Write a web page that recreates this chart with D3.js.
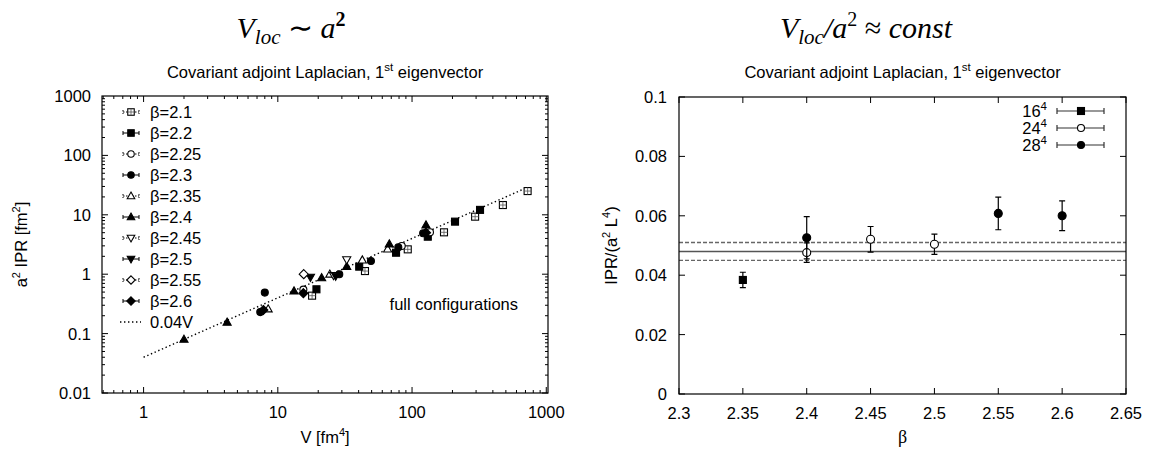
<!DOCTYPE html>
<html><head><meta charset="utf-8">
<script src="https://cdn.jsdelivr.net/npm/d3@7"></script>
<style>
body{margin:0;background:#fff;}
svg{display:block;}
text{font-family:"Liberation Sans",Arial,sans-serif;fill:#000;}
.serif{font-family:"Liberation Serif","Times New Roman",serif;}
</style></head><body>
<svg id="chart" width="1151" height="451"></svg>
<script>
// ---------- DATA: left panel (a^2 IPR vs V) ----------
const betaLabels = ["β=2.1","β=2.2","β=2.25","β=2.3","β=2.35","β=2.4","β=2.45","β=2.5","β=2.55","β=2.6"];
const betaShapes = ["square","square","circle","circle","triUp","triUp","triDown","triDown","diamond","diamond"];
const betaFilled = [false,true,false,true,false,true,false,true,false,true];
const b21  = [[18.0,0.435],[44.6,1.13],[92.9,2.62],[173,5.07],[295,9.3],[475,14.6],[726,25.1]];
const b22  = [[19.4,0.557],[40.4,1.34],[76,2.3],[131,4.28],[209,7.67],[321,12.1]];
const b225 = [[15.5,0.55],[83.8,2.98],[136,5.07]];
const b23  = [[7.4,0.23],[8.0,0.49],[28.7,1.0],[49.4,1.67],[79,2.84],[121,4.88]];
const b235 = [[8.47,0.26],[24.4,1.0],[42.6,1.73],[65.8,2.65]];
const b24  = [[2.0,0.080],[4.19,0.155],[13.2,0.52],[21.2,0.87],[32.6,1.35],[67.7,3.22],[127,6.73]];
const b245 = [[26,0.95],[32.6,1.75]];
const b25  = [[17.5,0.89],[27,0.93]];
const b255 = [[15.6,1.0]];
const b26  = [[7.8,0.25],[15.5,0.48],[127,5.0]];
const betaSeries = [b21,b22,b225,b23,b235,b24,b245,b25,b255,b26];
const fitCoef = 0.04;           // 0.04V
const fitRange = [1, 700];
const leftXTicks = [1,10,100,1000];
const leftYTicks = [0.01,0.1,1,10,100,1000];

// ---------- DATA: right panel (IPR/(a^2 L^4) vs beta) ----------
const latLabels = ["16","24","28"];
const lat16 = [[2.35,0.0384,0.0026]];
const lat24 = [[2.40,0.0476,0.0033],[2.45,0.0521,0.0043],[2.50,0.0504,0.0034]];
const lat28 = [[2.40,0.0526,0.0071],[2.55,0.0608,0.0055],[2.60,0.0600,0.0050]];
const constFit = 0.048, constErr = 0.003;
const rightXTicks = [2.3,2.35,2.4,2.45,2.5,2.55,2.6,2.65];
const rightYTicks = [0,0.02,0.04,0.06,0.08,0.1];

const svg = d3.select("#chart");
const FS = 16.5;

function marker(g, shape, filled, x, y, s) {
  const fill = filled ? "#000" : "#fff";
  const st = {stroke:"#000","stroke-width":1.1,fill:fill};
  let el;
  if (shape==="square") el = g.append("rect").attr("x",x-s/2).attr("y",y-s/2).attr("width",s).attr("height",s);
  else if (shape==="circle") el = g.append("circle").attr("cx",x).attr("cy",y).attr("r",s/2);
  else if (shape==="triUp") el = g.append("path").attr("d",`M${x},${y-s*0.6}L${x+s*0.58},${y+s*0.42}L${x-s*0.58},${y+s*0.42}Z`);
  else if (shape==="triDown") el = g.append("path").attr("d",`M${x},${y+s*0.6}L${x+s*0.58},${y-s*0.42}L${x-s*0.58},${y-s*0.42}Z`);
  else el = g.append("path").attr("d",`M${x},${y-s*0.65}L${x+s*0.65},${y}L${x},${y+s*0.65}L${x-s*0.65},${y}Z`);
  for (const k in st) el.attr(k, st[k]);
  if (shape==="square" && !filled) {
    g.append("path").attr("d",`M${x-s/2},${y}H${x+s/2}M${x},${y-s/2}V${y+s/2}`).attr("stroke","#555").attr("stroke-width",0.8);
  }
}

// ================= LEFT PANEL =================
const L = {l:102, r:548, t:96, b:393};
const xL = d3.scaleLog().domain([0.49,1030]).range([L.l,L.r]);
const yL = d3.scaleLog().domain([0.01,1000]).range([L.b,L.t]);
const gL = svg.append("g");

const xMinor = d3.range(-1,4).flatMap(e=>d3.range(1,10).map(m=>m*Math.pow(10,e))).filter(v=>v>=0.49&&v<=1030);
const yMinor = d3.range(-2,3).flatMap(e=>d3.range(1,10).map(m=>m*Math.pow(10,e))).filter(v=>v>=0.01&&v<=1000);
xMinor.forEach(v=>{
  const major = leftXTicks.includes(v);
  const len = major?6:3;
  gL.append("line").attr("x1",xL(v)).attr("x2",xL(v)).attr("y1",L.b).attr("y2",L.b-len).attr("stroke","#000");
  gL.append("line").attr("x1",xL(v)).attr("x2",xL(v)).attr("y1",L.t).attr("y2",L.t+len).attr("stroke","#000");
});
yMinor.forEach(v=>{
  const major = leftYTicks.includes(v);
  const len = major?6:3;
  gL.append("line").attr("y1",yL(v)).attr("y2",yL(v)).attr("x1",L.l).attr("x2",L.l+len).attr("stroke","#000");
  gL.append("line").attr("y1",yL(v)).attr("y2",yL(v)).attr("x1",L.r).attr("x2",L.r-len).attr("stroke","#000");
});
leftXTicks.forEach(v=>gL.append("text").attr("x",xL(v)).attr("y",L.b+25).attr("text-anchor","middle").attr("font-size",FS).text(d3.format("~g")(v)));
leftYTicks.forEach(v=>gL.append("text").attr("x",L.l-11).attr("y",yL(v)+6).attr("text-anchor","end").attr("font-size",FS).text(String(v)));
gL.append("rect").attr("x",L.l).attr("y",L.t).attr("width",L.r-L.l).attr("height",L.b-L.t).attr("fill","none").attr("stroke","#000").attr("stroke-width",1.2);

gL.append("line").attr("x1",xL(fitRange[0])).attr("y1",yL(fitCoef*fitRange[0])).attr("x2",xL(fitRange[1])).attr("y2",yL(fitCoef*fitRange[1]))
  .attr("stroke","#000").attr("stroke-width",1.4).attr("stroke-dasharray","1.4,2.6");

betaSeries.forEach((ser,i)=>{
  ser.forEach(p=>marker(gL, betaShapes[i], betaFilled[i], xL(p[0]), yL(p[1]), 7));
});

const legY0 = 112, legDY = 21;
betaLabels.forEach((lab,i)=>{
  const y = legY0 + i*legDY;
  gL.append("path").attr("d",`M123,${y}H139M123,${y-2}V${y+2}M139,${y-2}V${y+2}`).attr("stroke","#000").attr("stroke-width",1).attr("stroke-dasharray", i%2===0?"1.5,1.5":null);
  marker(gL, betaShapes[i], betaFilled[i], 131, y, 6.5);
  gL.append("text").attr("x",150).attr("y",y+6).attr("font-size",FS).text(lab);
});
{
  const y = legY0 + 10*legDY;
  gL.append("line").attr("x1",120).attr("x2",141).attr("y1",y).attr("y2",y).attr("stroke","#000").attr("stroke-width",1.4).attr("stroke-dasharray","1.4,2.6");
  gL.append("text").attr("x",150).attr("y",y+6).attr("font-size",FS).text("0.04V");
}
gL.append("text").attr("x",518).attr("y",310).attr("text-anchor","end").attr("font-size",FS).text("full configurations");

gL.append("text").attr("x",(L.l+L.r)/2).attr("y",443).attr("text-anchor","middle").attr("font-size",FS)
  .html('V [fm<tspan dy="-7" font-size="11">4</tspan><tspan dy="7">]</tspan>');
gL.append("text").attr("transform",`translate(27,${(L.t+L.b)/2}) rotate(-90)`).attr("text-anchor","middle").attr("font-size",FS)
  .html('a<tspan dy="-7" font-size="11">2</tspan><tspan dy="7"> IPR [fm</tspan><tspan dy="-7" font-size="11">2</tspan><tspan dy="7">]</tspan>');
gL.append("text").attr("x",(L.l+L.r)/2).attr("y",78).attr("text-anchor","middle").attr("font-size",FS)
  .html('Covariant adjoint Laplacian, 1<tspan dy="-7" font-size="11.5">st</tspan><tspan dy="7"> eigenvector</tspan>');
gL.append("text").attr("class","serif").attr("font-style","italic").attr("x",291).attr("y",38).attr("text-anchor","middle").attr("font-size",30)
  .html('V<tspan dy="6" font-size="21">loc</tspan><tspan dy="-6" style="font-style:normal"> ∼ </tspan>a<tspan dy="-12" font-size="20" font-weight="bold" style="font-style:normal">2</tspan>');

// ================= RIGHT PANEL =================
const R = {l:679, r:1126, t:97, b:394};
const xR = d3.scaleLinear().domain([2.3,2.65]).range([R.l,R.r]);
const yR = d3.scaleLinear().domain([0,0.1]).range([R.b,R.t]);
const gR = svg.append("g");
rightXTicks.forEach(v=>{
  gR.append("line").attr("x1",xR(v)).attr("x2",xR(v)).attr("y1",R.b).attr("y2",R.b-6).attr("stroke","#000");
  gR.append("line").attr("x1",xR(v)).attr("x2",xR(v)).attr("y1",R.t).attr("y2",R.t+6).attr("stroke","#000");
  gR.append("text").attr("x",xR(v)).attr("y",R.b+25).attr("text-anchor","middle").attr("font-size",FS).text(d3.format("~g")(v));
});
rightYTicks.forEach(v=>{
  gR.append("line").attr("y1",yR(v)).attr("y2",yR(v)).attr("x1",R.l).attr("x2",R.l+6).attr("stroke","#000");
  gR.append("line").attr("y1",yR(v)).attr("y2",yR(v)).attr("x1",R.r).attr("x2",R.r-6).attr("stroke","#000");
  gR.append("text").attr("x",R.l-12).attr("y",yR(v)+6).attr("text-anchor","end").attr("font-size",FS).text(d3.format("~g")(v));
});
gR.append("line").attr("x1",R.l).attr("x2",R.r).attr("y1",yR(constFit)).attr("y2",yR(constFit)).attr("stroke","#555").attr("stroke-width",1.5);
[constFit+constErr,constFit-constErr].forEach(v=>
  gR.append("line").attr("x1",R.l).attr("x2",R.r).attr("y1",yR(v)).attr("y2",yR(v)).attr("stroke","#666").attr("stroke-width",1.4).attr("stroke-dasharray","4,2"));
gR.append("rect").attr("x",R.l).attr("y",R.t).attr("width",R.r-R.l).attr("height",R.b-R.t).attr("fill","none").attr("stroke","#000").attr("stroke-width",1.2);

const latSeries = [lat16,lat24,lat28];
const latShape = ["square","circle","circle"];
const latFill = [true,false,true];
latSeries.forEach((ser,i)=>{
  ser.forEach(p=>{
    const x = xR(p[0]), y1 = yR(p[1]-p[2]), y2 = yR(p[1]+p[2]);
    gR.append("path").attr("d",`M${x},${y1}V${y2}M${x-3},${y1}H${x+3}M${x-3},${y2}H${x+3}`).attr("stroke","#000").attr("stroke-width",1.2);
    marker(gR, latShape[i], latFill[i], x, yR(p[1]), i===0?7:8);
  });
});
latLabels.forEach((lab,i)=>{
  const y = 111 + i*17;
  gR.append("text").attr("x",1047).attr("y",y+6).attr("text-anchor","end").attr("font-size",FS)
    .html(lab+'<tspan dy="-7" font-size="11.5">4</tspan>');
  gR.append("path").attr("d",`M1057,${y}H1104M1057,${y-3}V${y+3}M1104,${y-3}V${y+3}`).attr("stroke","#333").attr("stroke-width",1.2);
  marker(gR, latShape[i], latFill[i], 1081, y, 7);
});
gR.append("text").attr("class","serif").attr("x",(R.l+R.r)/2).attr("y",443).attr("text-anchor","middle").attr("font-size",18).text("β");
gR.append("text").attr("transform",`translate(617,${(R.t+R.b)/2}) rotate(-90)`).attr("text-anchor","middle").attr("font-size",FS)
  .html('IPR/(a<tspan dy="-7" font-size="11">2</tspan><tspan dy="7"> L</tspan><tspan dy="-7" font-size="11">4</tspan><tspan dy="7">)</tspan>');
gR.append("text").attr("x",(R.l+R.r)/2).attr("y",78).attr("text-anchor","middle").attr("font-size",FS)
  .html('Covariant adjoint Laplacian, 1<tspan dy="-7" font-size="11.5">st</tspan><tspan dy="7"> eigenvector</tspan>');
gR.append("text").attr("class","serif").attr("font-style","italic").attr("x",866).attr("y",38).attr("text-anchor","middle").attr("font-size",30)
  .html('V<tspan dy="6" font-size="21">loc</tspan><tspan dy="-6">/a</tspan><tspan dy="-12" font-size="20" style="font-style:normal">2</tspan><tspan dy="12" style="font-style:normal"> ≈ </tspan>const');
</script>
</body></html>
